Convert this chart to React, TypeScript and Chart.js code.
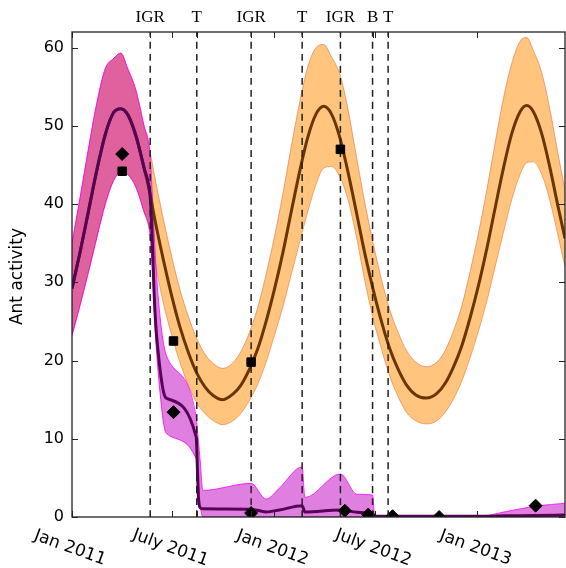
import React, { useEffect, useRef } from "react";
import { Chart, registerables } from "chart.js";
Chart.register(...registerables);

// ---- data (days since 1 Jan 2011) ----
const controlDays = [0, 15, 30, 45, 60, 75, 88, 100, 115, 130, 140, 150, 165, 180, 195, 210, 225, 240, 255, 272, 290, 305, 320, 335, 350, 365, 380, 395, 410, 425, 440, 454, 468, 483, 498, 513, 528, 543, 558, 573, 588, 603, 620, 639, 658, 673, 688, 703, 718, 733, 748, 763, 778, 793, 808, 820, 832, 847, 862, 877, 889];
const controlMean = [29.2, 34.0, 39.2, 44.4, 48.9, 51.7, 52.2, 51.5, 48.8, 44.6, 41.6, 37.8, 32.8, 28.2, 24.2, 21.0, 18.4, 16.6, 15.5, 15.0, 15.7, 16.9, 18.9, 21.5, 25.0, 29.1, 33.7, 38.9, 44.0, 48.5, 51.5, 52.5, 51.5, 48.5, 44.0, 38.9, 33.7, 29.1, 25.0, 21.5, 18.9, 16.9, 15.6, 15.2, 15.8, 17.1, 19.2, 21.9, 25.5, 29.6, 34.3, 39.5, 44.6, 49.0, 51.8, 52.6, 51.8, 49.0, 44.6, 39.5, 35.6];
const controlUpper = [35.0, 41.0, 47.2, 53.0, 57.3, 58.6, 59.3, 57.4, 54.6, 50.0, 47.0, 43.2, 38.0, 33.2, 29.0, 25.6, 22.8, 20.8, 19.6, 19.0, 19.7, 21.2, 23.6, 26.8, 31.0, 35.8, 41.2, 47.2, 52.8, 57.5, 60.0, 60.4, 58.8, 56.6, 52.0, 46.0, 40.2, 35.0, 30.4, 26.5, 23.6, 21.3, 19.8, 19.2, 19.8, 21.3, 23.8, 27.0, 31.4, 36.3, 41.8, 47.8, 53.5, 58.0, 60.8, 61.3, 59.6, 56.8, 52.0, 46.2, 41.8];
const controlLower = [23.2, 27.2, 31.4, 35.8, 40.0, 43.0, 44.0, 43.8, 42.2, 39.0, 36.6, 32.5, 27.3, 23.2, 19.7, 16.8, 14.6, 13.2, 12.3, 11.8, 12.3, 13.3, 14.9, 17.0, 19.8, 23.2, 26.8, 30.9, 35.0, 39.0, 42.5, 44.6, 44.8, 43.5, 40.5, 35.8, 30.2, 25.4, 21.5, 18.0, 15.4, 13.4, 12.3, 11.9, 12.3, 13.4, 15.1, 17.4, 20.4, 23.8, 27.6, 32.0, 36.4, 40.6, 43.8, 45.3, 45.4, 43.8, 40.4, 35.8, 32.0];

// treated site after the first IGR treatment
const treatedDays = [142, 145, 148, 151, 155, 160, 165, 170, 224, 226, 228, 231, 236, 323, 350, 374, 415, 420, 484, 514, 542, 546, 729, 783, 837, 889];
const treatedMean = [39.8, 35.0, 28.8, 24.6, 21.3, 18.2, 16.0, 15.2, 10.2, 6.5, 2.5, 1.2, 1.05, 1.0, 0.65, 0.9, 1.45, 0.65, 0.9, 0.6, 0.45, 0.1, 0.1, 0.15, 0.2, 0.25];
const treatedUpper = [45.0, 41.0, 36.5, 32.5, 28.5, 24.8, 22.2, 20.7, 12.8, 11.2, 9.7, 7.3, 3.4, 4.3, 2.3, 3.7, 6.4, 2.5, 5.5, 2.9, 2.8, 0.0, 0.0, 0.7, 1.4, 1.75];
const treatedLower = [35.0, 31.6, 27.0, 22.8, 18.8, 15.0, 12.0, 10.7, 7.4, 5.8, 4.1, 1.6, 0, 0, 0, 0, 0, 0, 0, 0, 0, 0, 0, 0, 0, 0];

const squareDays = [90.5, 183, 323, 484];
const squareValues = [44.2, 22.5, 19.8, 47.0];
const diamondDays = [90.5, 183, 323, 492, 534, 578, 662, 836];
const diamondValues = [46.4, 13.4, 0.5, 0.8, 0.3, 0.1, 0.0, 1.45];

const eventDays = [141, 225, 323, 415, 484, 542, 570];
const eventLabels = ["IGR", "T", "IGR", "T", "IGR", "B", "T"];

const tickDays = [0, 181, 365, 547, 731];
const tickLabels = ["Jan 2011", "July 2011", "Jan 2012", "July 2012", "Jan 2013"];
const yTicks = [0, 10, 20, 30, 40, 50, 60];

const X_MIN = 0;
const X_MAX = 889;
const Y_MIN = 0;
const Y_MAX = 62;

function pts(xs: number[], ys: number[]) {
  return xs.map((x, i) => ({ x, y: ys[i] }));
}

const axesPlugin = {
  id: "mplAxes",
  afterDraw(chart: any) {
    const { ctx, chartArea, scales } = chart;
    const { left, right, top, bottom } = chartArea;
    const xs = scales.x;
    const ys = scales.y;
    ctx.save();
    // frame
    ctx.strokeStyle = "#222";
    ctx.lineWidth = 1.3;
    ctx.strokeRect(left, top, right - left, bottom - top);
    // ticks
    ctx.lineWidth = 1;
    ctx.beginPath();
    const tl = 6;
    yTicks.forEach((v) => {
      const y = Math.round(ys.getPixelForValue(v)) + 0.5;
      ctx.moveTo(left, y);
      ctx.lineTo(left + tl, y);
      ctx.moveTo(right, y);
      ctx.lineTo(right - tl, y);
    });
    [...tickDays, ...eventDays].forEach((d) => {
      const x = Math.round(xs.getPixelForValue(d)) + 0.5;
      ctx.moveTo(x, bottom);
      ctx.lineTo(x, bottom - tl);
      ctx.moveTo(x, top);
      ctx.lineTo(x, top + tl);
    });
    ctx.stroke();
    // y tick labels
    ctx.fillStyle = "#000";
    ctx.font = '16px "DejaVu Sans"';
    ctx.textAlign = "right";
    ctx.textBaseline = "middle";
    yTicks.forEach((v) => {
      ctx.fillText(String(v), left - 8, ys.getPixelForValue(v));
    });
    // x tick labels (rotated)
    ctx.font = '17px "DejaVu Sans"';
    tickDays.forEach((d, i) => {
      const x = xs.getPixelForValue(d);
      ctx.save();
      ctx.translate(x - 2, bottom + 31);
      ctx.rotate((20 * Math.PI) / 180);
      ctx.textAlign = "center";
      ctx.textBaseline = "middle";
      ctx.fillText(tickLabels[i], 0, 0);
      ctx.restore();
    });
    // y title
    ctx.save();
    ctx.translate(18, (top + bottom) / 2 + 2);
    ctx.rotate(-Math.PI / 2);
    ctx.textAlign = "center";
    ctx.textBaseline = "middle";
    ctx.font = '17px "DejaVu Sans"';
    ctx.fillText("Ant activity", 0, 0);
    ctx.restore();
    // event labels on top
    ctx.font = '17px "Liberation Serif"';
    ctx.textAlign = "center";
    ctx.textBaseline = "alphabetic";
    eventDays.forEach((d, i) => {
      ctx.fillText(eventLabels[i], xs.getPixelForValue(d), top - 10);
    });
    ctx.restore();
  },
};

export default function App() {
  const ref = useRef<HTMLCanvasElement | null>(null);
  useEffect(() => {
    if (!ref.current) return;
    const preDays = controlDays.filter((d) => d <= 140);
    const n = preDays.length;
    const tDays = [...preDays, ...treatedDays];
    const tMean = [...controlMean.slice(0, n), ...treatedMean];
    const tUpper = [...controlUpper.slice(0, n), ...treatedUpper];
    const tLower = [...controlLower.slice(0, n), ...treatedLower];

    const lineBase = {
      showLine: true,
      pointRadius: 0,
      pointHoverRadius: 0,
      cubicInterpolationMode: "monotone" as const,
    };

    const eventSets = eventDays.map((d) => ({
      ...lineBase,
      data: [
        { x: d, y: Y_MIN },
        { x: d, y: Y_MAX },
      ],
      borderColor: "#222",
      borderWidth: 1.5,
      borderDash: [7, 5],
      fill: false,
      order: 3,
    }));

    const chart = new Chart(ref.current, {
      type: "scatter",
      data: {
        datasets: [
          {
            ...lineBase,
            data: pts(controlDays, controlUpper),
            borderColor: "rgba(225,110,60,0.6)",
            borderWidth: 1,
            backgroundColor: "rgba(255,140,0,0.5)",
            fill: "+1",
            order: 10,
          },
          {
            ...lineBase,
            data: pts(controlDays, controlLower),
            borderColor: "rgba(225,110,60,0.6)",
            borderWidth: 1,
            fill: false,
            order: 10,
          },
          {
            ...lineBase,
            data: pts(tDays, tUpper),
            borderColor: "rgba(255,0,255,0.8)",
            borderWidth: 1,
            backgroundColor: "rgba(191,0,191,0.5)",
            fill: "+1",
            order: 9,
          },
          {
            ...lineBase,
            data: pts(tDays, tLower),
            borderColor: "rgba(255,0,255,0.8)",
            borderWidth: 1,
            fill: false,
            order: 9,
          },
          {
            ...lineBase,
            data: pts(controlDays, controlMean),
            borderColor: "#6b3500",
            borderWidth: 3,
            fill: false,
            order: 6,
          },
          {
            ...lineBase,
            data: pts(tDays, tMean),
            borderColor: "#580058",
            borderWidth: 3,
            fill: false,
            order: 5,
          },
          ...eventSets,
          {
            data: pts(squareDays, squareValues),
            pointStyle: "rect",
            pointRadius: 6,
            backgroundColor: "#000",
            borderColor: "#000",
            borderWidth: 1,
            clip: 0,
            order: 1,
          },
          {
            data: pts(diamondDays, diamondValues),
            pointStyle: "rectRot",
            pointRadius: 6.5,
            backgroundColor: "#000",
            borderColor: "#000",
            borderWidth: 1,
            clip: 0,
            order: 0,
          },
        ] as any,
      },
      options: {
        responsive: false,
        animation: false,
        devicePixelRatio: 1,
        layout: { autoPadding: false, padding: { left: 72, top: 32, right: 1, bottom: 51 } },
        scales: {
          x: { type: "linear", min: X_MIN, max: X_MAX, display: false },
          y: { type: "linear", min: Y_MIN, max: Y_MAX, display: false },
        },
        plugins: {
          legend: { display: false },
          tooltip: { enabled: false },
        },
        events: [],
      } as any,
      plugins: [axesPlugin],
    });
    return () => chart.destroy();
  }, []);

  return (
    <div style={{ position: "absolute", left: 0, top: 0, width: 566, height: 568, background: "#fff" }}>
      <canvas ref={ref} width={566} height={568} style={{ display: "block" }} />
    </div>
  );
}
